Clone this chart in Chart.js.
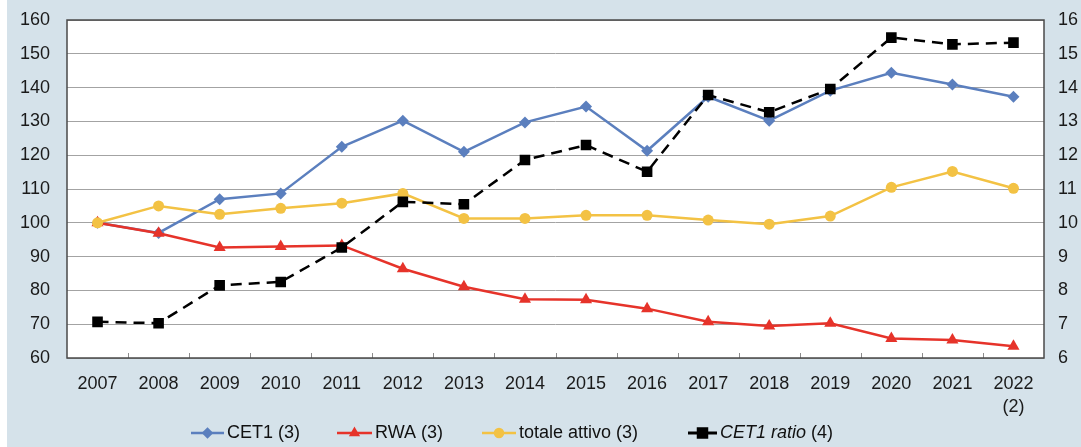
<!DOCTYPE html>
<html lang="it">
  <head>
    <meta charset="UTF-8" />
    <title>CET1, RWA, totale attivo</title>
    <script src="https://cdn.jsdelivr.net/npm/chart.js@4.4.1/dist/chart.umd.min.js"></script>
    <style>
      html, body { margin: 0; padding: 0; background: #fff; }
      #chart-cet1 {
        display: block;
        background: linear-gradient(to right, #fff 0 7px, #d5e2ea 7px);
      }
    </style>
  </head>
  <body>
    <canvas id="chart-cet1" width="1081" height="447"></canvas>

    <script>
      // anni (2022 con nota)
      const years = ["2007", "2008", "2009", "2010", "2011", "2012", "2013", "2014",
        "2015", "2016", "2017", "2018", "2019", "2020", "2021", ["2022", "(2)"]];

      // indici 2007 = 100 (asse sinistro)
      const cet1 = [100, 97, 107, 108.7, 122.5, 130.2, 121, 129.7, 134.4, 121.3,
        137.3, 130.2, 139.1, 144.4, 140.9, 137.3];
      const rwa = [100, 96.9, 92.7, 93, 93.3, 86.4, 81.1, 77.4, 77.2, 74.6,
        70.7, 69.5, 70.3, 65.8, 65.3, 63.5];
      const totaleAttivo = [100, 105, 102.5, 104.3, 105.8, 108.7, 101.3, 101.3, 102.2, 102.2,
        100.8, 99.6, 102, 110.5, 115.2, 110.2];

      // CET1 ratio in % (asse destro)
      const cet1Ratio = [7.07, 7.03, 8.15, 8.25, 9.27, 10.62, 10.55, 11.86, 12.3, 11.51,
        13.78, 13.27, 13.96, 15.48, 15.28, 15.33];

      const leftTicks = { min: 60, max: 160, step: 10 };
      const rightTicks = { min: 6, max: 16, step: 1 };

      const FONT = "'Liberation Sans', Arial, Helvetica, sans-serif";
      const BLUE = "#5b7fbe";
      const RED = "#e6332a";
      const YELLOW = "#f3c244";
      const BLACK = "#000000";

      // area del grafico bianca + cornice + tacche interne asse x
      const frame = {
        id: "frame",
        beforeDraw(chart) {
          const a = chart.chartArea;
          const c = chart.ctx;
          c.save();
          c.fillStyle = "#fff";
          c.fillRect(a.left, a.top, a.right - a.left, a.bottom - a.top);
          c.restore();
        },
        afterDraw(chart) {
          const a = chart.chartArea;
          const c = chart.ctx;
          const n = chart.data.labels.length;
          const w = (a.right - a.left) / n;
          c.save();
          c.strokeStyle = "#8c8c8c";
          c.lineWidth = 1;
          for (let i = 1; i < n; i++) {
            const x = Math.round(a.left + i * w) + 0.5;
            c.beginPath();
            c.moveTo(x, a.bottom);
            c.lineTo(x, a.bottom - 5);
            c.stroke();
          }
          c.strokeStyle = "#4a4a4a";
          c.lineWidth = 1.5;
          c.strokeRect(a.left, a.top, a.right - a.left, a.bottom - a.top);
          c.restore();
        },
      };

      // legenda disegnata a mano (CET1 ratio in corsivo)
      const legendItems = [
        { ds: 0, x: 191, len: 33, parts: [["CET1 (3)", ""]] },
        { ds: 1, x: 337, len: 35, parts: [["RWA (3)", ""]] },
        { ds: 2, x: 482, len: 34, parts: [["totale attivo (3)", ""]] },
        { ds: 3, x: 688, len: 29, parts: [["CET1 ratio", "italic "], [" (4)", ""]] },
      ];
      const customLegend = {
        id: "customLegend",
        afterDraw(chart) {
          const c = chart.ctx;
          const y = 433;
          c.save();
          legendItems.forEach((it) => {
            const ds = chart.data.datasets[it.ds];
            c.strokeStyle = ds.borderColor;
            c.lineWidth = it.ds === 3 ? 3 : 2.5;
            c.setLineDash([]);
            c.beginPath();
            c.moveTo(it.x, y);
            c.lineTo(it.x + it.len, y);
            c.stroke();
            Chart.helpers.drawPoint(c, {
              pointStyle: ds.pointStyle,
              radius: it.ds === 3 ? 6 : 4,
              rotation: 0,
              borderWidth: 1,
            }, it.x + it.len / 2, y);
            c.fillStyle = ds.borderColor;
            c.fill();
            let tx = it.x + it.len + 3;
            c.fillStyle = "#111";
            c.textBaseline = "middle";
            it.parts.forEach(([txt, style]) => {
              c.font = style + "18px " + FONT;
              c.fillText(txt, tx, y);
              tx += c.measureText(txt).width;
            });
          });
          c.restore();
        },
      };

      function fixWidth(w) {
        return function (s) {
          s.width = w;
          s.paddingTop = 0;
          s.paddingBottom = 0;
        };
      }

      const ctx = document.getElementById("chart-cet1").getContext("2d");

      const chart = new Chart(ctx, {
        type: "line",
        data: {
          labels: years,
          datasets: [
            {
              label: "CET1 (3)",
              data: cet1,
              yAxisID: "y",
              borderColor: BLUE,
              backgroundColor: BLUE,
              borderWidth: 2.5,
              pointStyle: "rectRot",
              pointRadius: 6,
              pointBorderWidth: 0,
              order: 3,
            },
            {
              label: "RWA (3)",
              data: rwa,
              yAxisID: "y",
              borderColor: RED,
              backgroundColor: RED,
              borderWidth: 2.5,
              pointStyle: "triangle",
              pointRadius: 7,
              pointBorderWidth: 0,
              order: 2,
            },
            {
              label: "totale attivo (3)",
              data: totaleAttivo,
              yAxisID: "y",
              borderColor: YELLOW,
              backgroundColor: YELLOW,
              borderWidth: 2.5,
              pointStyle: "circle",
              pointRadius: 5.5,
              pointBorderWidth: 0,
              order: 1,
            },
            {
              label: "CET1 ratio (4)",
              data: cet1Ratio,
              yAxisID: "y2",
              borderColor: BLACK,
              backgroundColor: BLACK,
              borderWidth: 2.5,
              borderDash: [11, 7],
              pointStyle: "rect",
              pointRadius: 7.5,
              pointBorderWidth: 0,
              order: 0,
            },
          ],
        },
        options: {
          responsive: false,
          animation: false,
          devicePixelRatio: 1,
          layout: { padding: { top: 20, left: 0, right: 0, bottom: 0 } },
          elements: { line: { tension: 0 } },
          plugins: {
            legend: { display: false },
            tooltip: { enabled: false },
          },
          scales: {
            x: {
              offset: true,
              grid: { display: false },
              border: { display: false },
              ticks: {
                color: "#1a1a1a",
                font: { family: FONT, size: 18, lineHeight: 1.3 },
                padding: 6,
                maxRotation: 0,
                autoSkip: false,
              },
              afterFit(s) {
                s.height = 89;
                s.paddingLeft = 0;
                s.paddingRight = 0;
              },
            },
            y: {
              position: "left",
              min: leftTicks.min,
              max: leftTicks.max,
              ticks: {
                stepSize: leftTicks.step,
                color: "#1a1a1a",
                font: { family: FONT, size: 18 },
                padding: 17,
              },
              grid: { color: "#a3a3a3", lineWidth: 1, drawTicks: false },
              border: { display: false },
              afterFit: fixWidth(67),
            },
            y2: {
              position: "right",
              min: rightTicks.min,
              max: rightTicks.max,
              ticks: {
                stepSize: rightTicks.step,
                color: "#1a1a1a",
                font: { family: FONT, size: 18 },
                padding: 14,
              },
              grid: { drawOnChartArea: false, drawTicks: false },
              border: { display: false },
              afterFit: fixWidth(37),
            },
          },
        },
        plugins: [frame, customLegend],
      });
    </script>
  </body>
</html>
